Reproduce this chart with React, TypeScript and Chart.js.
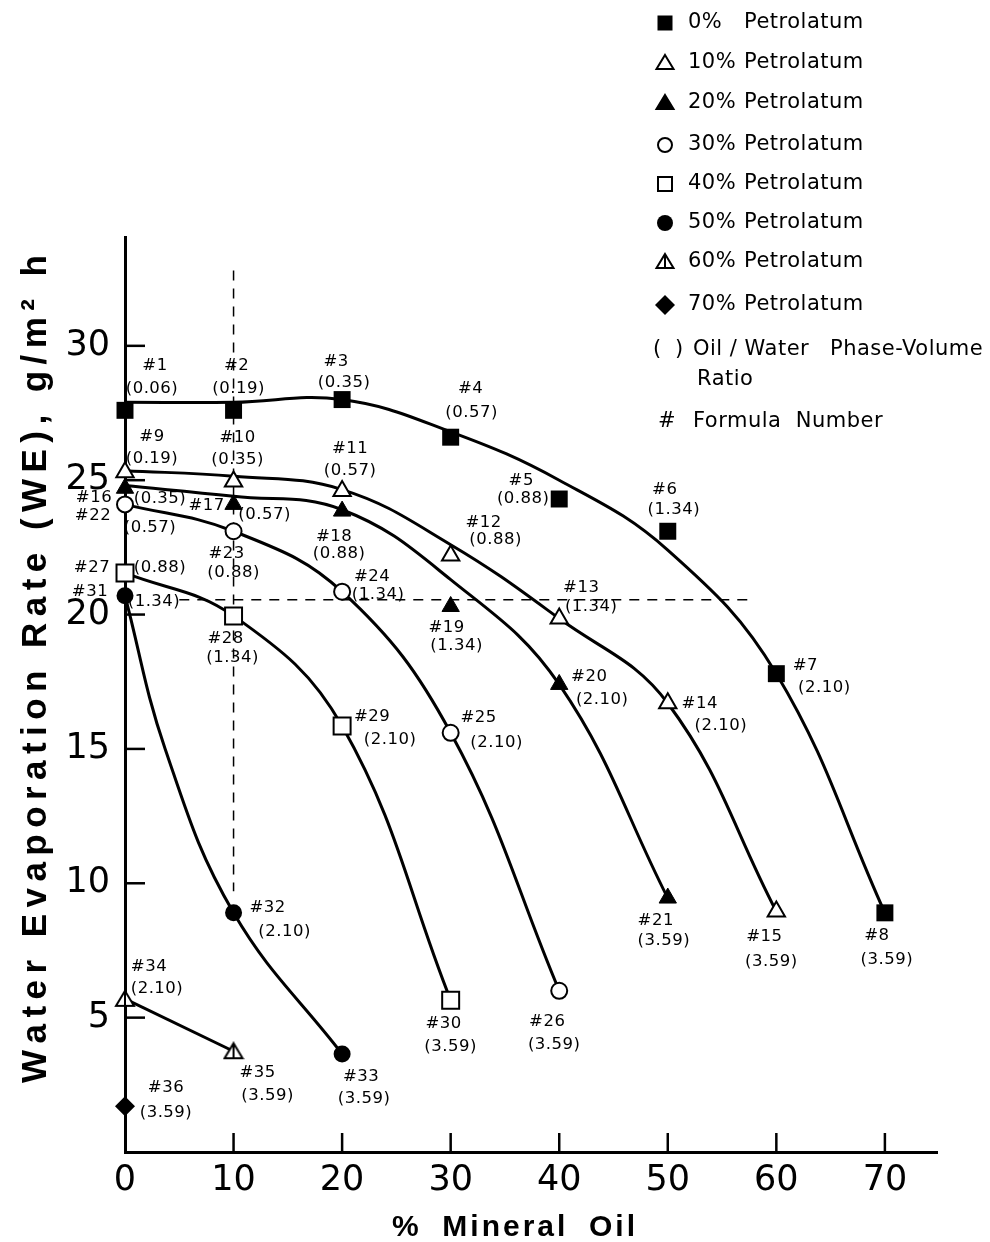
import React, { useEffect, useRef } from "react";
import { Chart, registerables } from "chart.js";

Chart.register(...registerables);

const W = 990;
const H = 1242;
const LABEL_FONT = '"DejaVu Sans", sans-serif';
const TITLE_FONT = '"Liberation Sans", "DejaVu Sans", sans-serif';

// ---- axes ----
const xTicks = [0, 10, 20, 30, 40, 50, 60, 70];
const yTicks = [5, 10, 15, 20, 25, 30];
const xMax = 74.8;
const yMax = 34.05;
const xTitleWords = ["%", "Mineral", "Oil"];
const yTitle = "Water Evaporation Rate (WE), g/m\u00B2 h";

// ---- 0% Petrolatum ----
const oil0 = [0, 10, 20, 30, 40, 50, 60, 70];
const we0 = [27.6, 27.6, 28.0, 26.6, 24.3, 23.1, 17.8, 8.9];
const no0 = [1, 2, 3, 4, 5, 6, 7, 8];
const pv0 = ["0.06", "0.19", "0.35", "0.57", "0.88", "1.34", "2.10", "3.59"];
// ---- 10% Petrolatum ----
const oil10 = [0, 10, 20, 30, 40, 50, 60];
const we10 = [25.3, 24.95, 24.6, 22.2, 19.85, 16.7, 8.95];
const no10 = [9, 10, 11, 12, 13, 14, 15];
const pv10 = ["0.19", "0.35", "0.57", "0.88", "1.34", "2.10", "3.59"];
// ---- 20% Petrolatum ----
const oil20 = [0, 10, 20, 30, 40, 50];
const we20 = [24.7, 24.1, 23.85, 20.3, 17.4, 9.45];
const no20 = [16, 17, 18, 19, 20, 21];
const pv20 = ["0.35", "0.57", "0.88", "1.34", "2.10", "3.59"];
// ---- 30% Petrolatum ----
const oil30 = [0, 10, 20, 30, 40];
const we30 = [24.1, 23.1, 20.85, 15.6, 6.0];
const no30 = [22, 23, 24, 25, 26];
const pv30 = ["0.57", "0.88", "1.34", "2.10", "3.59"];
// ---- 40% Petrolatum ----
const oil40 = [0, 10, 20, 30];
const we40 = [21.55, 19.95, 15.85, 5.65];
const no40 = [27, 28, 29, 30];
const pv40 = ["0.88", "1.34", "2.10", "3.59"];
// ---- 50% Petrolatum ----
const oil50 = [0, 10, 20];
const we50 = [20.7, 8.9, 3.65];
const no50 = [31, 32, 33];
const pv50 = ["1.34", "2.10", "3.59"];
// ---- 60% Petrolatum ----
const oil60 = [0, 10];
const we60 = [5.7, 3.75];
const no60 = [34, 35];
const pv60 = ["2.10", "3.59"];
// ---- 70% Petrolatum ----
const oil70 = [0];
const we70 = [1.7];
const no70 = [36];
const pv70 = ["3.59"];

// ---- fitted curves ----
const fit0Oil = [0, 10, 20, 30, 40, 50, 60, 70];
const fit0We = [27.9, 27.9, 28.0, 26.8, 25.0, 22.4, 17.8, 8.9];
const fit10Oil = [0, 10, 20, 30, 40, 50, 60];
const fit10We = [25.35, 25.15, 24.65, 22.6, 19.85, 16.7, 8.95];
const fit20Oil = [0, 10, 20, 30, 40, 50];
const fit20We = [24.8, 24.4, 23.9, 21.3, 17.4, 9.45];
const fit50Oil = [0, 3.7, 10, 20];
const fit50We = [20.7, 15.0, 8.9, 3.65];

// ---- dashed guide lines ----
const guideVOil = [10, 10];
const guideVWe = [32.8, 9.7];
const guideHOil = [5, 57.4];
const guideHWe = [20.55, 20.55];

// ---- legend ----
const legendPct = ["0%", "10%", "20%", "30%", "40%", "50%", "60%", "70%"];
const legendWord = "Petrolatum";

// label offsets (px) per formula number: [#dx, #dy, ratio dx, ratio dy]
const LABEL_OFFSETS: number[][] = [
  [30, -45, 27, -22], [3, -45, 5, -22], [-6, -38, 2, -17], [20, -48, 21, -24],
  [-38, -18, -36, 0], [-3, -42, 6, -22], [29, -8, 48, 14], [-8, 23, 2, 47],
  [27, -35, 27, -13], [4, -44, 4, -22], [8, -42, 8, -20], [33, -33, 45, -16],
  [22, -31, 32, -12], [32, 0, 53, 22], [-12, 25, -5, 50],
  [-31, 9, 35, 10], [-27, 1, 31, 10], [-8, 26, -3, 43], [-4, 21, 6, 39],
  [30, -8, 43, 15], [-12, 23, -4, 43],
  [-32, 11, 25, 23], [-7, 22, 0, 41], [30, -15, 36, 3], [28, -15, 46, 10], [-12, 31, -5, 54],
  [-33, -5, 35, -5], [-8, 23, -1, 42], [30, -9, 48, 14], [-7, 24, 0, 47],
  [-35, -4, 29, 6], [34, -5, 51, 19], [19, 23, 22, 45],
  [24, -32, 32, -10], [24, 21, 34, 44],
  [41, -19, 41, 6],
];

type Kind = "sqFill" | "triOpen" | "triFill" | "cirOpen" | "sqOpen" | "cirFill" | "triBar" | "diamond";

const series: { oil: number[]; we: number[]; no: number[]; pv: string[]; kind: Kind }[] = [
  { oil: oil0, we: we0, no: no0, pv: pv0, kind: "sqFill" },
  { oil: oil10, we: we10, no: no10, pv: pv10, kind: "triOpen" },
  { oil: oil20, we: we20, no: no20, pv: pv20, kind: "triFill" },
  { oil: oil30, we: we30, no: no30, pv: pv30, kind: "cirOpen" },
  { oil: oil40, we: we40, no: no40, pv: pv40, kind: "sqOpen" },
  { oil: oil50, we: we50, no: no50, pv: pv50, kind: "cirFill" },
  { oil: oil60, we: we60, no: no60, pv: pv60, kind: "triBar" },
  { oil: oil70, we: we70, no: no70, pv: pv70, kind: "diamond" },
];

const pts = (xs: number[], ys: number[]) => xs.map((x, i) => ({ x, y: ys[i] }));

function makeTriBar(): HTMLCanvasElement {
  const c = document.createElement("canvas");
  c.width = 22;
  c.height = 20;
  const g = c.getContext("2d")!;
  g.lineWidth = 2;
  g.strokeStyle = "#000";
  g.fillStyle = "#fff";
  g.beginPath();
  g.moveTo(11, 2);
  g.lineTo(20, 17);
  g.lineTo(2, 17);
  g.closePath();
  g.fill();
  g.stroke();
  g.beginPath();
  g.moveTo(11, 3);
  g.lineTo(11, 17);
  g.stroke();
  return c;
}

function markerStyle(kind: Kind, triBar: HTMLCanvasElement) {
  switch (kind) {
    case "sqFill":
      return { pointStyle: "rect", pointRadius: 12, pointBackgroundColor: "#000", pointBorderColor: "#000", pointBorderWidth: 0 };
    case "triOpen":
      return { pointStyle: "triangle", pointRadius: 10, pointBackgroundColor: "#fff", pointBorderColor: "#000", pointBorderWidth: 2 };
    case "triFill":
      return { pointStyle: "triangle", pointRadius: 10, pointBackgroundColor: "#000", pointBorderColor: "#000", pointBorderWidth: 1 };
    case "cirOpen":
      return { pointStyle: "circle", pointRadius: 8, pointBackgroundColor: "#fff", pointBorderColor: "#000", pointBorderWidth: 2 };
    case "sqOpen":
      return { pointStyle: "rect", pointRadius: 12, pointBackgroundColor: "#fff", pointBorderColor: "#000", pointBorderWidth: 2 };
    case "cirFill":
      return { pointStyle: "circle", pointRadius: 8.5, pointBackgroundColor: "#000", pointBorderColor: "#000", pointBorderWidth: 0 };
    case "triBar":
      return { pointStyle: triBar, pointRadius: 10, pointBackgroundColor: "#fff", pointBorderColor: "#000", pointBorderWidth: 0 };
    default:
      return { pointStyle: "rectRot", pointRadius: 10, pointBackgroundColor: "#000", pointBorderColor: "#000", pointBorderWidth: 0 };
  }
}

function drawLegendMarker(ctx: CanvasRenderingContext2D, kind: Kind, cx: number, cy: number) {
  ctx.save();
  ctx.lineWidth = 2;
  ctx.strokeStyle = "#000";
  ctx.fillStyle = "#000";
  const tri = () => {
    ctx.beginPath();
    ctx.moveTo(cx, cy - 8);
    ctx.lineTo(cx + 8.5, cy + 6);
    ctx.lineTo(cx - 8.5, cy + 6);
    ctx.closePath();
  };
  switch (kind) {
    case "sqFill":
      ctx.fillRect(cx - 7.5, cy - 7.5, 15, 15);
      break;
    case "sqOpen":
      ctx.strokeRect(cx - 7, cy - 7, 14, 14);
      break;
    case "triOpen":
      tri();
      ctx.stroke();
      break;
    case "triFill":
      tri();
      ctx.fill();
      ctx.stroke();
      break;
    case "triBar":
      tri();
      ctx.stroke();
      ctx.beginPath();
      ctx.moveTo(cx, cy - 7);
      ctx.lineTo(cx, cy + 6);
      ctx.stroke();
      break;
    case "cirOpen":
      ctx.beginPath();
      ctx.arc(cx, cy, 7, 0, Math.PI * 2);
      ctx.stroke();
      break;
    case "cirFill":
      ctx.beginPath();
      ctx.arc(cx, cy, 8, 0, Math.PI * 2);
      ctx.fill();
      break;
    case "diamond":
      ctx.beginPath();
      ctx.moveTo(cx, cy - 10);
      ctx.lineTo(cx + 10, cy);
      ctx.lineTo(cx, cy + 10);
      ctx.lineTo(cx - 10, cy);
      ctx.closePath();
      ctx.fill();
      break;
  }
  ctx.restore();
}

// words placed along a span: letters tracked by `track`, equal gaps between words
function drawWords(ctx: CanvasRenderingContext2D, words: string[], x: number, y: number, span: number, track: number) {
  ctx.letterSpacing = "0px";
  const widths = words.map((w) => ctx.measureText(w).width + track * (w.length - 1));
  const total = widths.reduce((a, b) => a + b, 0);
  const gap = (span - total) / (words.length - 1);
  ctx.textAlign = "left";
  let cur = x;
  words.forEach((w, i) => {
    let cx = cur;
    for (const ch of Array.from(w)) {
      ctx.fillText(ch, cx, y);
      cx += ctx.measureText(ch).width + track;
    }
    cur += widths[i] + gap;
  });
}

// whole string tracked uniformly to fill a span
function drawTracked(ctx: CanvasRenderingContext2D, text: string, x: number, y: number, span: number) {
  ctx.letterSpacing = "0px";
  ctx.textAlign = "left";
  const chars = Array.from(text);
  const widths = chars.map((c) => ctx.measureText(c).width);
  const total = widths.reduce((a, b) => a + b, 0);
  const track = (span - total) / (chars.length - 1);
  let cx = x;
  chars.forEach((c, i) => {
    ctx.fillText(c, cx, y);
    cx += widths[i] + track;
  });
}

const LEGEND_Y = [23, 63, 103, 145, 184, 223, 262, 305];

const decor = {
  id: "decor",
  beforeDatasetsDraw(chart: any) {
    const { ctx, chartArea, scales } = chart;
    const x = scales.x;
    const y = scales.y;
    ctx.save();
    ctx.strokeStyle = "#000";
    ctx.lineWidth = 2.5;
    xTicks.forEach((v) => {
      if (v === 0) return;
      const px = x.getPixelForValue(v);
      ctx.beginPath();
      ctx.moveTo(px, chartArea.bottom);
      ctx.lineTo(px, chartArea.bottom - 19);
      ctx.stroke();
    });
    yTicks.forEach((v) => {
      const py = y.getPixelForValue(v);
      ctx.beginPath();
      ctx.moveTo(chartArea.left, py);
      ctx.lineTo(chartArea.left + 20, py);
      ctx.stroke();
    });
    ctx.restore();
  },
  afterDraw(chart: any) {
    const { ctx, scales } = chart;
    const x = scales.x;
    const y = scales.y;
    ctx.save();
    ctx.fillStyle = "#000";
    // point labels
    ctx.font = `16.5px ${LABEL_FONT}`;
    ctx.textAlign = "center";
    ctx.textBaseline = "middle";
    ctx.letterSpacing = "0.5px";
    series.forEach((s) => {
      s.oil.forEach((ov, i) => {
        const px = x.getPixelForValue(ov);
        const py = y.getPixelForValue(s.we[i]);
        const off = LABEL_OFFSETS[s.no[i] - 1];
        ctx.fillText(`#${s.no[i]}`, px + off[0], py + off[1]);
        ctx.fillText(`(${s.pv[i]})`, px + off[2], py + off[3]);
      });
    });
    ctx.letterSpacing = "0px";

    // legend
    ctx.font = `21px ${LABEL_FONT}`;
    ctx.textAlign = "left";
    ctx.textBaseline = "middle";
    ctx.letterSpacing = "0.5px";
    series.forEach((s, i) => {
      drawLegendMarker(ctx, s.kind, 665, LEGEND_Y[i]);
      ctx.fillText(legendPct[i], 688, LEGEND_Y[i]);
      ctx.fillText(legendWord, 744, LEGEND_Y[i]);
    });
    ctx.fillText("(", 653, 350);
    ctx.fillText(")", 675, 350);
    ctx.fillText("Oil / Water", 693, 350);
    ctx.fillText("Phase-Volume", 830, 350);
    ctx.fillText("Ratio", 697, 380);
    ctx.fillText("#", 658, 422);
    ctx.fillText("Formula  Number", 693, 422);
    ctx.letterSpacing = "0px";

    // axis titles
    ctx.textBaseline = "alphabetic";
    ctx.font = `bold 30px ${TITLE_FONT}`;
    drawWords(ctx, xTitleWords, 392, 1236, 243, 3);
    ctx.save();
    ctx.translate(46, 669);
    ctx.rotate(-Math.PI / 2);
    ctx.font = `bold 35px ${TITLE_FONT}`;
    drawTracked(ctx, yTitle, -414, 0, 828);
    ctx.restore();
    ctx.restore();
  },
};

export default function App() {
  const ref = useRef<HTMLCanvasElement>(null);
  useEffect(() => {
    document.body.style.margin = "0";
    const triBar = makeTriBar();
    const markerSets = series.map((s) => ({
      type: "scatter" as const,
      data: pts(s.oil, s.we),
      showLine: false,
      order: 0,
      clip: false as const,
      ...markerStyle(s.kind, triBar),
    }));
    const curve = (xs: number[], ys: number[], tension = 0.4) => ({
      type: "line" as const,
      data: pts(xs, ys),
      borderColor: "#000",
      borderWidth: 3,
      pointRadius: 0,
      fill: false,
      order: 1,
      clip: false as const,
      cubicInterpolationMode: "default" as const,
      tension,
    });
    const guide = (xs: number[], ys: number[]) => ({
      type: "line" as const,
      data: pts(xs, ys),
      borderColor: "#000",
      borderWidth: 1.5,
      borderDash: [10, 8],
      pointRadius: 0,
      fill: false,
      order: 2,
      clip: false as const,
      tension: 0,
    });
    const datasets: any[] = [
      ...markerSets,
      curve(fit0Oil, fit0We),
      curve(fit10Oil, fit10We),
      curve(fit20Oil, fit20We),
      curve(oil30, we30),
      curve(oil40, we40),
      curve(fit50Oil, fit50We),
      curve(oil60, we60, 0),
      guide(guideVOil, guideVWe),
      guide(guideHOil, guideHWe),
    ];
    const chart = new Chart(ref.current!, {
      type: "scatter",
      data: { datasets },
      options: {
        responsive: false,
        animation: false,
        devicePixelRatio: 1,
        layout: { padding: { left: 0, top: 237, right: 53, bottom: 0 } },
        plugins: {
          legend: { display: false },
          tooltip: { enabled: false },
          title: { display: false },
        },
        scales: {
          x: {
            type: "linear",
            min: 0,
            max: xMax,
            afterFit: (s: any) => {
              s.height = 90;
            },
            afterBuildTicks: (s: any) => {
              s.ticks = xTicks.map((v) => ({ value: v }));
            },
            grid: { display: true, drawOnChartArea: false, drawTicks: false, color: "rgba(0,0,0,0)" },
            border: { display: true, color: "#000", width: 3 },
            ticks: {
              color: "#000",
              font: { family: LABEL_FONT, size: 35 },
              padding: 8,
              maxRotation: 0,
              autoSkip: false,
            },
          },
          y: {
            type: "linear",
            min: 0,
            max: yMax,
            afterFit: (s: any) => {
              s.width = 125;
            },
            afterBuildTicks: (s: any) => {
              s.ticks = yTicks.map((v) => ({ value: v }));
            },
            grid: { display: true, drawOnChartArea: false, drawTicks: false, color: "rgba(0,0,0,0)" },
            border: { display: true, color: "#000", width: 3 },
            ticks: {
              color: "#000",
              font: { family: LABEL_FONT, size: 35 },
              padding: 15,
              autoSkip: false,
            },
          },
        },
      },
      plugins: [decor],
    });
    return () => chart.destroy();
  }, []);
  return (
    <div style={{ width: W, height: H, background: "#fff", position: "relative" }}>
      <canvas ref={ref} width={W} height={H} style={{ display: "block", width: W, height: H }} />
    </div>
  );
}
